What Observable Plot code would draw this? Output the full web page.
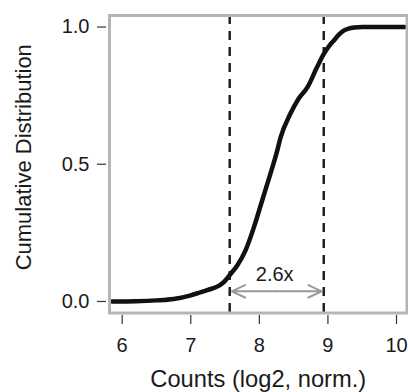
<!DOCTYPE html>
<html>
<head>
<meta charset="utf-8">
<script src="https://cdn.jsdelivr.net/npm/d3@7"></script>
<script src="https://cdn.jsdelivr.net/npm/@observablehq/plot@0.6"></script>
<style>
  html, body { margin: 0; padding: 0; background: #fff; }
  #chart svg { display: block; }
</style>
</head>
<body>
<div id="chart"></div>
<script>
// Cumulative distribution curve (log2 counts, normalized)
const cdfX = [5.85, 6.2, 6.5, 6.75, 7.0, 7.1, 7.25, 7.4, 7.47, 7.58, 7.68, 7.8, 7.92, 8.04, 8.16, 8.26, 8.31, 8.45, 8.57, 8.70, 8.84, 8.94, 9.03, 9.09, 9.16, 9.23, 9.30, 9.38, 9.50, 10.12];
const cdfY = [0.0, 0.001, 0.004, 0.009, 0.022, 0.030, 0.042, 0.056, 0.068, 0.100, 0.132, 0.187, 0.270, 0.367, 0.464, 0.549, 0.598, 0.683, 0.738, 0.780, 0.853, 0.902, 0.935, 0.952, 0.972, 0.987, 0.994, 0.998, 1.0, 1.0];

// Dashed cutoffs and fold-change annotation
const cutoffs = [7.568, 8.939];
const foldLabel = ["2.6x"];
const arrowY = [0.037];
const labelY = [0.097];

// Axes
const xTicks = [6, 7, 8, 9, 10];
const yTicks = [0, 0.5, 1];
const xDomain = [5.815, 10.153];
const yDomain = [-0.042, 1.042];
const xTitle = "Counts (log2, norm.)";
const yTitle = "Cumulative Distribution";

const curve = cdfX.map((x, i) => ({x, y: cdfY[i]}));
const mid = (cutoffs[0] + cutoffs[1]) / 2;
const arrows = [
  {x1: mid, x2: cutoffs[0] + 0.03, y: arrowY[0]},
  {x1: mid, x2: cutoffs[1] - 0.03, y: arrowY[0]}
];

const chart = Plot.plot({
  width: 408,
  height: 392,
  marginLeft: 109,
  marginRight: 1.5,
  marginTop: 15,
  marginBottom: 79.5,
  style: {fontFamily: "'Liberation Sans', Arial, Helvetica, sans-serif", color: "#1a1a1a", background: "#fff"},
  x: {domain: xDomain},
  y: {domain: yDomain},
  marks: [
    Plot.ruleX(cutoffs, {stroke: "#222", strokeWidth: 2.5, strokeDasharray: "9,7"}),
    Plot.line(curve, {x: "x", y: "y", stroke: "#111", strokeWidth: 4.5, curve: "monotone-x", strokeLinecap: "round", strokeLinejoin: "round"}),
    Plot.arrow(arrows, {x1: "x1", x2: "x2", y1: "y", y2: "y", stroke: "#9a9a9a", strokeWidth: 2, headLength: 11, headAngle: 50}),
    Plot.text(foldLabel, {x: [mid - 0.03], y: labelY, text: d => d, fontSize: 20, fill: "#1a1a1a"}),
    Plot.frame({stroke: "#b5b5b5", strokeWidth: 3}),
    Plot.axisX({ticks: xTicks, tickFormat: d => String(d), tickSize: 9, dy: 2.5, tickPadding: 13, fontSize: 20, stroke: "#333", strokeWidth: 1.2, label: null}),
    Plot.axisY({ticks: yTicks, tickFormat: d3.format(".1f"), tickSize: 9, dx: -3, tickPadding: 8, fontSize: 20, stroke: "#333", strokeWidth: 1.2, label: null}),
    Plot.text([xTitle], {frameAnchor: "bottom", dy: 74, fontSize: 23.7, lineAnchor: "bottom", fill: "#1a1a1a"}),
    Plot.text([yTitle], {frameAnchor: "left", dx: -86, dy: -7, rotate: -90, textAnchor: "middle", lineAnchor: "middle", fontSize: 22, fill: "#1a1a1a"})
  ]
});
document.getElementById("chart").appendChild(chart);
</script>
</body>
</html>
